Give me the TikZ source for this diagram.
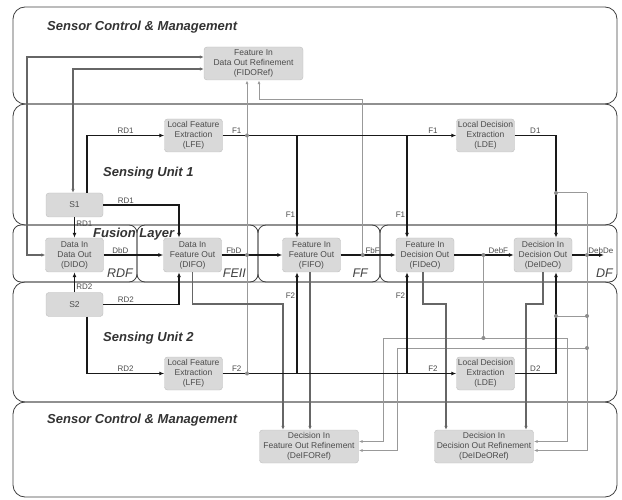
\documentclass[tikz,border=0pt]{standalone}
\usepackage{fontspec}
\setmainfont{Liberation Sans}
\usetikzlibrary{arrows.meta,positioning,calc}

\begin{document}
\begin{tikzpicture}[x=1pt, y=-1pt,
			blk/.style={draw=black!25, fill=black!15, rounded corners=3pt, text=black!70, align=center, inner sep=1pt, font=\fontsize{8.5}{10}\selectfont},
			wide/.style={blk, minimum width=99pt, minimum height=33pt},
			narrow/.style={blk, minimum width=58pt, minimum height=33pt},
			band/.style={draw=black!75, line width=0.8pt, rounded corners=12pt},
			part/.style={draw=black!75, line width=0.8pt, rounded corners=8pt},
			ttl/.style={font=\fontsize{13}{15}\selectfont\bfseries\itshape, text=black!80, anchor=west, inner sep=0pt},
			fl/.style={font=\fontsize{12.5}{14}\selectfont\itshape, text=black!75, anchor=east, inner sep=0pt},
			lab/.style={font=\fontsize{8}{9}\selectfont, text=black!70, inner sep=1pt},
			dk/.style={draw=black!90, line width=1.8pt, -{Latex[length=5pt,width=4pt]}},
			md/.style={draw=black!60, line width=1.5pt, -{Latex[length=4pt,width=3.5pt]}},
			mdboth/.style={md, {Latex[length=4pt,width=3.5pt]}-{Latex[length=4pt,width=3.5pt]}},
			gr/.style={draw=black!40, line width=1pt},
			grA/.style={gr, -{Latex[length=4pt,width=3pt]}},
			dot/.style={circle, fill=black!45, inner sep=0pt, minimum size=4pt}
			]
			\useasboundingbox (0,0) rectangle (622,500);
			
			% --------------------------------------------------------------------
			% layers
			% --------------------------------------------------------------------
			\draw[band] (13,7) rectangle (617,104);
			\draw[band] (13,104) rectangle (617,225);
			\draw[band] (13,282) rectangle (617,402);
			\draw[band] (13,402) rectangle (617,497);
			
			\draw[part] (13,225) rectangle (137,282);
			\draw[part] (137,225) rectangle (258,282);
			\draw[part] (258,225) rectangle (380,282);
			\draw[part] (380,225) rectangle (617,282);
			
			\node[ttl] (scmA) at (47,27) {Sensor Control \& Management};
			\node[ttl] (suA) at (103,173) {Sensing Unit 1};
			\node[ttl] (fus) at (93,234) {Fusion Layer};
			\node[ttl] (suB) at (103,338) {Sensing Unit 2};
			\node[ttl] (scmB) at (47,420) {Sensor Control \& Management};
			
			\node[fl] (rdf) at (133,273) {RDF};
			\node[fl] (feii) at (246,273) {FEII};
			\node[fl] (ff) at (368,273) {FF};
			\node[fl] (df) at (613,273) {DF};
			
			% --------------------------------------------------------------------
			% blocks
			% --------------------------------------------------------------------
			\node[wide] (fidoref) at (253.5,63.5) {Feature In\\Data Out Refinement\\(FIDORef)};
			
			\node[narrow] (lfeA) at (193.5,135.5) {Local Feature\\Extraction\\(LFE)};
			\node[narrow] (ldeA) at (485.5,135.5) {Local Decision\\Extraction\\(LDE)};
			\node[blk, minimum width=57pt, minimum height=24pt] (sA) at (74.5,205) {S1};
			
			\node[narrow, minimum height=34pt] (dido) at (74.5,255) {Data In\\Data Out\\(DIDO)};
			\node[narrow, minimum height=34pt] (difo) at (192.5,255) {Data In\\Feature Out\\(DIFO)};
			\node[narrow, minimum height=34pt] (fifo) at (311.5,255) {Feature In\\Feature Out\\(FIFO)};
			\node[narrow, minimum height=34pt] (fideo) at (425,255) {Feature In\\Decision Out\\(FIDeO)};
			\node[narrow, minimum height=34pt] (deideo) at (543,255) {Decision In\\Decision Out\\(DeIDeO)};
			
			\node[blk, minimum width=57pt, minimum height=24pt] (sB) at (74.5,304.5) {S2};
			\node[narrow] (lfeB) at (193.5,373.5) {Local Feature\\Extraction\\(LFE)};
			\node[narrow] (ldeB) at (485.5,373.5) {Local Decision\\Extraction\\(LDE)};
			
			\node[wide] (deiforef) at (309,446.5) {Decision In\\Feature Out Refinement\\(DeIFORef)};
			\node[wide] (deideoref) at (484,446.5) {Decision In\\Decision Out Refinement\\(DeIDeORef)};
			
			% helper points
			\coordinate (fifoN) at ([xshift=-14.5pt]fifo.north);
			\coordinate (fifoS) at ([xshift=-14.5pt]fifo.south);
			\coordinate (fifoB) at ([xshift=-1.5pt]fifo.south);
			\coordinate (fideoN) at ([xshift=-18pt]fideo.north);
			\coordinate (fideoS) at ([xshift=-18pt]fideo.south);
			\coordinate (fidoL) at ([xshift=-6.5pt]fidoref.south);
			\coordinate (fidoR) at ([xshift=5.5pt]fidoref.south);
			\coordinate (fidoU) at ([yshift=6.5pt]fidoref.west);
			\coordinate (fidoD) at ([yshift=-5.5pt]fidoref.west);
			\coordinate (sAtop) at ([xshift=-1.5pt]sA.north);
			\coordinate (fbfPt) at ($(fifo.east)!0.4!(fideo.west)$);
			\coordinate (debfPt) at ($(fideo.east)!0.49!(deideo.west)$);
			\coordinate (dout) at (604,255);
			\coordinate (dfbA) at (383,338);
			\coordinate (dfbB) at (567,338);
			\coordinate (dfcA) at (397,348);
			\coordinate (dfcB) at (587,348);
			\coordinate (dj1) at (556,193);
			\coordinate (dj2) at (556,316);
			\coordinate (dcol) at (587,193);
			
			% --------------------------------------------------------------------
			% refinement feedback (grey)
			% --------------------------------------------------------------------
			\draw[grA] (fidoL |- lfeB.east) -- (fidoL);
			\draw[grA] (fbfPt) -- ++(0,-155) -| (fidoR);
			
			\draw[gr] (debfPt) -- (debfPt |- dfbA);
			\draw[gr] (dfbA) -- (dfbB);
			\draw[grA] (dfbA) |- ([yshift=5pt]deiforef.east);
			\draw[grA] (dfbB) |- ([yshift=5pt]deideoref.east);
			\draw[gr] (dj1) -- (dcol);
			\draw[gr] (dj2) -- (dj2 -| dcol);
			\draw[gr] (dfcA) -- (dfcB);
			\draw[grA] (dcol) |- ([yshift=-4pt]deideoref.east);
			\draw[grA] (dfcA) |- ([yshift=-4pt]deiforef.east);
			
			% --------------------------------------------------------------------
			% refinement paths (dark grey)
			% --------------------------------------------------------------------
			\draw[mdboth] (fidoU) -- ++(-177,0) |- (dido.west);
			\draw[mdboth] (fidoD) -| (sAtop);
			
			\draw[md] (difo.south) -- ++(0,32) -| ([xshift=-26pt]deiforef.north);
			\draw[md] (fifoB) -- (fifoB |- deiforef.north);
			\draw[md] ([xshift=-2pt]fideo.south) -- ++(0,32) -| ([xshift=-38pt]deideoref.north);
			\draw[md] (deideo.south) -- ++(0,32) -| ([xshift=42pt]deideoref.north);
			
			% --------------------------------------------------------------------
			% sensing unit 1
			% --------------------------------------------------------------------
			\draw[dk] ([xshift=12.5pt]sA.north) |- node[lab, above, pos=0.75] {RD1} (lfeA.west);
			\draw[dk] (sA.east) -| node[lab, above, pos=0.15] {RD1} ([xshift=-13.5pt]difo.north);
			\draw[dk] (sA.south) -- node[lab, right, pos=0.3] {RD1} (dido.north);
			
			\draw[dk] (lfeA.east) -- node[lab, above, pos=0.06] {F1} node[lab, above, pos=0.9] {F1} (ldeA.west);
			\draw[dk] (fifoN |- lfeA.east) -- node[lab, left, pos=0.77] {F1} (fifoN);
			\draw[dk] (fideoN |- lfeA.east) -- node[lab, left, pos=0.77] {F1} (fideoN);
			\draw[dk] (ldeA.east) -| node[lab, above, pos=0.25] {D1} ([xshift=13pt]deideo.north);
			
			% --------------------------------------------------------------------
			% fusion layer
			% --------------------------------------------------------------------
			\draw[dk] (dido.east) -- node[lab, above, pos=0.28] {DbD} (difo.west);
			\draw[dk] (difo.east) -- node[lab, above, pos=0.2] {FbD} (fifo.west);
			\draw[dk] (fifo.east) -- node[lab, above, pos=0.58] {FbF} (fideo.west);
			\draw[dk] (fideo.east) -- node[lab, above, pos=0.74] {DebF} (deideo.west);
			\draw[dk] (deideo.east) -- node[lab, above, pos=0.9] {DebDe} (dout);
			
			% --------------------------------------------------------------------
			% sensing unit 2
			% --------------------------------------------------------------------
			\draw[dk] (sB.north) -- node[lab, right, pos=0.3] {RD2} (dido.south);
			\draw[dk] (sB.east) -| node[lab, above, pos=0.15] {RD2} ([xshift=-13.5pt]difo.south);
			\draw[dk] ([xshift=12.5pt]sB.south) |- node[lab, above, pos=0.75] {RD2} (lfeB.west);
			
			\draw[dk] (lfeB.east) -- node[lab, above, pos=0.06] {F2} node[lab, above, pos=0.9] {F2} (ldeB.west);
			\draw[dk] (fifoS |- lfeB.east) -- node[lab, left, pos=0.77] {F2} (fifoS);
			\draw[dk] (fideoS |- lfeB.east) -- node[lab, left, pos=0.77] {F2} (fideoS);
			\draw[dk] (ldeB.east) -| node[lab, above, pos=0.25] {D2} ([xshift=13pt]deideo.south);
			
			% junction dots
			\foreach \p in {lfeA.east, difo.east, lfeB.east}
			\node[dot] at (fidoL |- \p) {};
			\node[dot] at (fbfPt) {};
			\node[dot] at (debfPt) {};
			\node[dot] at (debfPt |- dfbA) {};
			\node[dot] at (dj1) {};
			\node[dot] at (dj2) {};
			\node[dot] at (dj2 -| dcol) {};
			\node[dot] at (dcol |- deideo.east) {};
			\node[dot] at (dfcB) {};
			
		\end{tikzpicture}
\end{document}
